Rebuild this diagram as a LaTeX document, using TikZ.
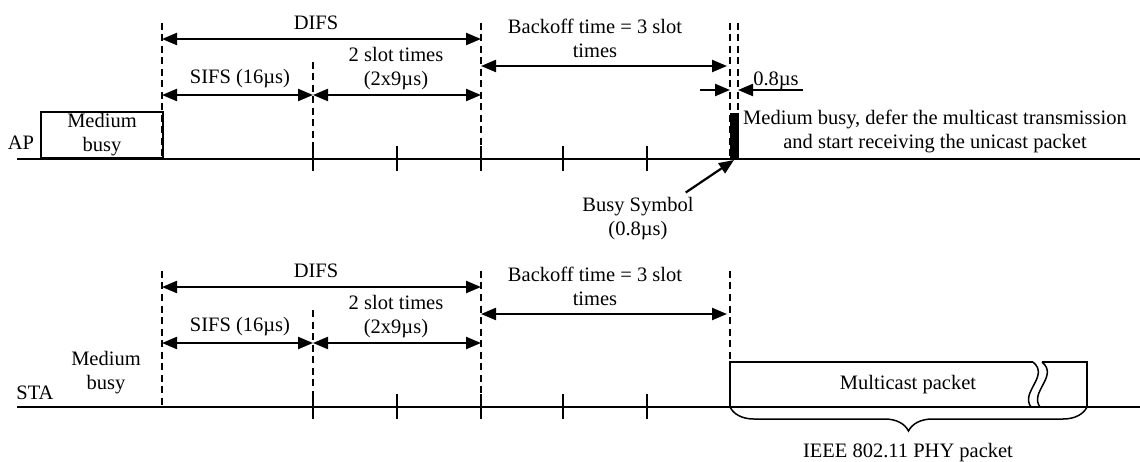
\documentclass[tikz,border=0pt]{standalone}
\usepackage{fontspec}
\setmainfont{Liberation Serif}
\usetikzlibrary{arrows.meta,positioning,calc,decorations.pathreplacing}

\tikzset{
  lbl/.style={font=\fontsize{20.5}{24}\selectfont, align=center, inner sep=0pt},
  timeline/.style={line width=2pt},
  slottick/.style={line width=2pt},
  guide/.style={line width=1.8pt, dash pattern=on 7pt off 4.5pt},
  span/.style={line width=2.2pt, {Triangle[length=15pt,width=12pt]}-{Triangle[length=15pt,width=12pt]}},
  pointer/.style={line width=2.2pt, -{Triangle[length=15pt,width=12pt]}},
}

\begin{document}
\begin{tikzpicture}[x=1pt, y=-1pt, >=Stealth]
\useasboundingbox (0,0) rectangle (1140,462);

% Both stations share the same DIFS / backoff layout
\foreach \r/\b in {ap/159, sta/407}{
  \coordinate (\r-start) at (17,\b);
  \coordinate (\r-end) at (1140,\b);
  \draw[timeline] (\r-start) -- (\r-end);
  % boundaries and row heights
  \coordinate (\r-busy) at (162,\b);
  \coordinate (\r-sifs) at (313,\b);
  \coordinate (\r-difs) at (481,\b);
  \coordinate (\r-tx) at (730,\b);
  \coordinate (\r-ytop) at (0,\b-136);
  \coordinate (\r-ymid) at (0,\b-97);
  \coordinate (\r-ydifs) at (0,\b-120);
  \coordinate (\r-yback) at (0,\b-93);
  \coordinate (\r-ysifs) at (0,\b-64);
  % slot ticks
  \foreach \x in {313,397,481,563,647}{
    \draw[slottick] (\x,\b-13) -- (\x,\b+12);
  }
  \draw[guide] (\r-busy |- \r-ytop) -- (\r-busy);
  \draw[guide] (\r-sifs |- \r-ymid) -- (\r-sifs);
  \draw[guide] (\r-difs |- \r-ytop) -- (\r-difs);
  % intervals
  \draw[span] (\r-busy |- \r-ydifs) -- (\r-difs |- \r-ydifs);
  \draw[span] (\r-busy |- \r-ysifs) -- (\r-sifs |- \r-ysifs);
  \draw[span] (\r-sifs |- \r-ysifs) -- (\r-difs |- \r-ysifs);
  \draw[span] (\r-difs |- \r-yback) -- ([xshift=-3pt]\r-tx |- \r-yback);
  \node[lbl] (\r-difslbl) at (316,\b-136) {DIFS};
  \node[lbl] (\r-sifslbl) at (240,\b-80) {SIFS (16µs)};
  \node[lbl] (\r-slotlbl) at (396,\b-90) {2 slot times\\(2x9µs)};
  \node[lbl] (\r-backlbl) at (595,\b-121) {Backoff time = 3 slot\\times};
}

% AP row
\node[lbl] (aplbl) at (21,143) {AP};
\node[lbl, draw, line width=2pt, minimum width=122pt, minimum height=46pt,
  anchor=south west] (apbusy) at (40,159) {Medium\\busy};
\coordinate (ap-txend) at (738,159);
\draw[guide] (ap-tx |- ap-ytop) -- (ap-tx);
\draw[guide] (ap-txend |- ap-ytop) -- (ap-txend);
\node[fill=black, inner sep=0pt, minimum width=9pt, minimum height=47pt,
  anchor=south] (busysym) at (734,160) {};

% 0.8us gap
\coordinate (gapl) at (730,90);
\coordinate (gapr) at (738,90);
\coordinate (gapla) at (700,90);
\coordinate (gapra) at (803,90);
\draw[pointer] (gapla) -- (gapl);
\draw[pointer] (gapra) -- (gapr);
\node[lbl, anchor=base] (gaplbl) at (776,86) {0.8µs};

\node[lbl] (defer) at (935,131)
  {Medium busy, defer the multicast transmission\\and start receiving the unicast packet};
\node[lbl] (busylbl) at (638,219) {Busy Symbol\\(0.8µs)};
\draw[pointer] ([xshift=-8pt,yshift=5pt]busylbl.north east) -- (busysym.south);

% STA row
\node[lbl] (stalbl) at (35,393) {STA};
\node[lbl] (stabusy) at (106,373) {Medium\\busy};
\coordinate (pktnw) at (730,362);
\coordinate (pktbl) at (730,407);
\coordinate (cutla) at (1033,362);
\coordinate (cutlb) at (1031,407);
\coordinate (cutra) at (1042,362);
\coordinate (cutrb) at (1040,407);
\coordinate (pktne) at (1087,362);
\coordinate (pktse) at (1087,407);
\draw[guide] (sta-tx |- sta-ytop) -- (pktnw);
\draw[line width=2pt] (pktbl) -- (pktnw) -- (cutla);
\draw[line width=1.5pt] (cutla) .. controls (1050,376) and (1020,392) .. (cutlb);
\draw[line width=1.5pt] (cutrb) .. controls (1029,392) and (1059,376) .. (cutra);
\draw[line width=2pt] (cutra) -- (pktne) -- (pktse);
\node[lbl] (pkt) at (908,385) {Multicast packet};
\draw[line width=1.5pt, decorate, decoration={brace, amplitude=24pt, mirror}]
  (pktbl) -- (pktse);
\node[lbl] (phylbl) at (908,453) {IEEE 802.11 PHY packet};

\end{tikzpicture}
\end{document}
